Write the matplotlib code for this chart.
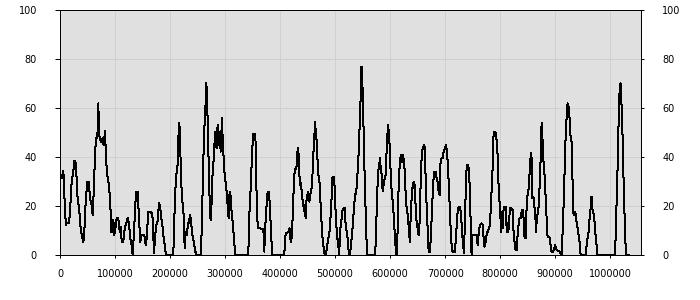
import matplotlib
matplotlib.use("Agg")
import matplotlib.pyplot as plt
from matplotlib.ticker import FuncFormatter
import numpy as np

# x positions in thousands, values in %
x_k = [
    0, 3.0, 6.06, 7.27, 9.09, 10.9, 12.1, 16.35, 18.17, 21.2, 24.23, 26.05, 27.26, 29.08,
    31.5, 33.32, 35.13, 37.56, 39.37, 42.4, 44.22, 46.64, 49.67, 52.7, 53.91, 55.73, 57.55,
    59.36, 61.79, 63.6, 65.42, 67.84, 69.66, 70.87, 72.69, 74.51, 76.93, 79.35, 81.77, 82.99,
    84.8, 86.62, 89.04, 91.46, 93.28, 95.09, 96.91, 98.73, 101.16, 102.98, 106.0, 107.21,
    109.03, 110.85, 112.06, 115.09, 116.91, 119.33, 122.97, 125.39, 127.81, 130.24, 132.06,
    133.87, 136.29, 138.11, 141.14, 143.56, 145.98, 148.41, 151.43, 153.25, 155.68, 157.5,
    160.52, 163.55, 167.79,
    169.6, 170.8, 174.5, 176.9, 179.9, 181.7, 183.5, 186.0, 187.8, 190.2, 192.6, 205.9,
    207.8, 210.8, 213.2, 215.6, 216.9, 218.1, 219.9, 221.7, 224.1, 225.9, 226.5, 228.4,
    230.2, 232.6, 235.0, 236.8, 238.7, 240.5, 242.9, 245.3, 247.1, 256.2, 257.4, 259.3,
    261.1, 262.9, 264.7, 265.9, 267.1, 268.9, 270.8, 272.6, 273.8, 275.6, 277.4, 279.9,
    281.7, 283.5, 284.7, 286.5, 288.3, 290.2, 292.0, 294.4, 295.6, 297.4, 299.2, 301.7,
    303.5, 305.3, 306.5, 307.7, 309.5, 311.3, 313.2, 316.2, 318.6,
    342.2, 344.1, 346.5, 349.5, 351.3, 355.0, 356.2, 357.4, 359.2, 360.4, 363.4, 369.5,
    370.7, 371.3, 372.5, 374.3, 376.2, 377.4, 379.8, 381.6, 384.0, 385.9, 407.7, 408.9,
    410.7, 414.9, 417.4, 419.2, 421.0, 423.4, 425.2, 427.0, 428.9, 430.7, 431.9, 433.1,
    434.3, 436.1, 437.9, 440.4, 442.2, 444.0, 445.2, 446.4, 447.6, 449.5, 451.3, 453.1,
    454.9, 457.3, 459.2, 461.0, 462.2, 463.4, 464.6, 465.8, 467.6, 469.4, 471.3, 473.1,
    474.9, 476.7, 478.5, 480.3, 482.2, 484.0, 485.8, 487.6, 489.4, 491.2, 493.1, 494.9,
    496.7, 498.5, 499.7, 501.6, 503.4, 505.8, 507.6,
    508.8, 513.7, 516.1, 517.9, 519.1, 520.9, 522.8, 525.2, 527.0, 528.8, 531.2, 533.0,
    534.9, 536.1, 537.9, 539.7, 541.5, 543.3, 545.2, 546.4, 547.6, 548.8, 550.0, 551.2,
    553.0, 554.9, 556.7, 558.5, 573.0, 574.2, 576.1, 577.9, 579.7, 581.5, 583.3, 585.1,
    586.4, 588.2, 590.0, 591.8, 593.6, 595.4, 596.6, 597.9, 599.7, 601.5, 603.3, 605.1,
    606.9, 608.8, 610.6, 611.8, 613.0, 614.8, 616.6, 618.5, 620.3, 622.1, 623.9, 625.1,
    626.9, 628.8, 630.6, 633.0, 634.8, 636.0, 637.2, 639.1, 640.9, 642.7, 644.5, 646.3,
    648.1, 650.0, 651.8, 653.6, 655.4, 657.2, 659.0, 661.5, 663.3, 664.5, 666.3, 668.1,
    670.0, 672.4, 674.2, 676.0, 678.4, 680.2, 682.7, 684.5, 686.3, 688.1, 689.9,
    691.7, 693.6, 695.4, 697.2, 699.6, 701.4, 703.3, 705.1, 706.9, 708.7, 710.5, 712.3,
    714.2, 717.8, 719.6, 721.4, 723.2, 725.7, 727.5, 729.3, 731.1, 732.9, 734.1, 735.4,
    736.6, 738.4, 740.2, 742.0, 743.8, 745.7, 746.9, 748.1, 749.3, 754.1, 757.8, 759.0,
    760.2, 762.0, 763.8, 766.3, 768.7, 769.9, 771.7, 773.5, 775.3, 777.2, 779.6, 781.4,
    783.2, 785.0, 786.8, 788.1, 789.3, 790.5, 791.7, 792.9, 794.1, 795.3, 796.5, 798.4,
    800.2, 801.4, 802.6, 803.8, 805.0, 806.2, 808.1, 809.9, 811.1, 812.3, 813.5, 814.7,
    815.9, 817.7, 820.2, 822.6, 824.4, 826.2, 828.1, 829.9, 831.7, 833.5, 835.3, 837.1,
    839.0, 840.8, 842.6, 844.4, 846.2, 848.0, 849.2, 851.1, 852.9, 854.7, 855.9, 857.1,
    858.3, 859.5, 861.4, 862.6,
    863.8, 865.0, 866.8, 868.6, 870.4, 872.3, 874.1, 875.3, 876.5, 877.7, 879.5, 881.3,
    883.2, 884.4, 886.2, 888.6, 890.4, 891.6, 892.9, 896.5, 898.3, 900.1, 901.3, 902.6,
    908.6, 910.4, 912.2, 913.5, 915.3, 917.1, 918.9, 920.7, 922.5, 924.4, 926.2, 928.0,
    929.8, 931.6, 933.4, 935.3, 937.1, 938.9, 940.7, 942.5, 944.4, 946.2, 955.8, 957.1,
    958.9, 960.7, 961.9, 963.7, 965.5, 966.8, 968.0, 969.8, 971.6, 973.4, 975.2, 977.1,
    1008.5, 1009.8, 1011.6, 1013.4, 1015.2, 1016.4, 1017.6, 1018.8, 1020.0, 1021.9,
    1023.7, 1025.5, 1027.3, 1029.1, 1035.0,
]

values = [
    31.3, 31.3, 34.3, 28.6, 17.7, 12.2, 12.9, 12.9, 17.7, 29.9, 34, 38.4, 38.4, 36.7,
    24.5, 21.1, 17.7, 10.9, 8.2, 5.4, 9.5, 21.8, 29.9, 29.9, 24.5, 21.8, 20.4,
    16.3, 28.6, 40.8, 47.6, 47.6, 61.9, 49, 47.6, 46.3, 47.6, 44.9, 50.6, 43.5,
    35.4, 31.3, 28.6, 20.4, 9.5, 9.5, 14.3, 8.2, 11.6, 15, 15, 11.6,
    9.5, 11.6, 5.4, 5.4, 9.5, 12.2, 15, 12.9, 6.8, 4.1, 0,
    6.8, 17.7, 25.9, 25.9, 15, 5.4, 8.2, 8.2, 8.2, 4.1, 6.8,
    17.7, 17.7, 17.0,
    8.2, 0.7, 12.2, 12.9, 21.1, 20.4, 16.3, 12.2, 8.2, 4.1, 0, 0,
    15, 32.7, 34, 50.3, 54.1, 47.6, 32.7, 23.1, 19, 9.5, 2.7, 9.5,
    8.2, 12.2, 14.3, 16.3, 12.2, 8.2, 5.4, 2.7, 0, 0, 9.5, 27.2,
    43.5, 54.4, 61.9, 70.1, 65.3, 50.3, 31.3, 17.7, 14.3, 21.8, 34, 40.8,
    50.3, 46.3, 43.5, 53.1, 44.9, 50.3, 42.2, 55.8, 47.6, 39.5, 32.7, 28.6,
    24.5, 17.7, 15, 24.5, 25.9, 19, 15, 6.8, 0,
    0, 16.3, 27.2, 43.5, 49.3, 49.3, 39.5, 23.1, 12.2, 10.9, 10.9, 10.6,
    5.4, 1.4, 9.5, 16.3, 23.1, 25.9, 25.9, 19, 6.8, 0, 0, 6.8,
    8.8, 9.5, 10.9, 5.4, 6.8, 17.7, 31.3, 34.7, 35.4, 36.7, 43.5, 43.5,
    36.7, 28.6, 29.3, 23.1, 20.4, 17.7, 20.4, 15, 21.8, 24.5, 25.9, 21.8,
    24.5, 27.2, 34, 43.5, 47.6, 54.4, 51, 49, 40.8, 32.7, 31.3, 23.1,
    15, 8.2, 4.1, 0.7, 0, 1.4, 4.1, 6.8, 8.2, 13.6, 20.4, 31.3,
    32, 31.3, 23.1, 15, 8.2, 4.1, 0,
    9.5, 18.4, 19, 19, 12.2, 9.5, 6.8, 0, 0, 4.1, 9.5, 15,
    20.4, 24.5, 25.2, 28.6, 36.7, 43.5, 57.1, 63.9, 76.9, 76.9, 66.7, 57.1,
    38.1, 23.1, 8.2, 0, 0, 9.5, 20.4, 34, 35.4, 39.5, 34, 32.7,
    25.9, 28.6, 31.3, 32.7, 42.2, 50.3, 53.1, 47.6, 43.5, 28.6, 25.9, 20.4,
    15, 6.8, 1.4, 0, 4.1, 23.1, 34, 39.5, 40.8, 38.1, 40.8, 36.7,
    34, 20.4, 19, 13.6, 8.2, 5.4, 15, 23.1, 27.9, 29.9, 28.6, 20.4,
    13.6, 10.9, 8.2, 13.6, 28.6, 39.5, 43.5, 44.9, 43.5, 31.3, 20.4, 10.9,
    1.4, 1.4, 8.2, 17.7, 29.9, 34, 34, 31.3, 29.9, 25.9, 24.5,
    38.1, 39.5, 39.5, 42.2, 43.5, 44.9, 42.2, 36.7, 27.2, 17.7, 8.2, 2,
    1.4, 1.4, 6.8, 13.6, 19, 19.7, 19, 15, 8.2, 4.1, 0.7, 9.5,
    19, 34, 36.7, 36.7, 32.7, 20.4, 6.8, 0, 8.2, 8.2, 8.2, 4.1,
    6.8, 10.9, 12.2, 12.9, 12.2, 6.8, 3.4, 5.4, 8.2, 9.5, 10.9, 12.2,
    20.4, 28.6, 38.1, 50.3, 50.3, 50.3, 49.7, 47.6, 46.3, 40.8, 31.3, 23.1,
    17.7, 9.5, 15, 17.7, 10.9, 19, 19.7, 19.7, 13.6, 9.5, 12.9, 9.5,
    12.2, 19, 19, 18.4, 9.5, 5.4, 2, 2, 8.2, 12.2, 15, 15,
    17.7, 18.4, 15, 6.8, 6.8, 19, 23.8, 25.2, 31.3, 38.1, 41.5, 39.5,
    23.1, 23.8, 23.1, 19,
    17.7, 9.5, 15, 17.7, 20.4, 31.3, 42.2, 54.1, 50.3, 42.2, 35.4, 31.3,
    20.4, 15, 7.5, 7.5, 6.8, 4.1, 1.4, 1.4, 2.7, 4.1, 2.7, 2,
    1.4, 0, 0, 9.5, 20.4, 34, 47.6, 55.8, 61.9, 60.5, 55.8, 48.3,
    46.3, 29.9, 16.3, 17.7, 17, 13.6, 10.9, 8.2, 5.4, 0, 0, 4.1,
    6.8, 9.5, 13.6, 16.3, 23.8, 23.8, 17.7, 17, 13.6, 8.2, 4.1, 0,
    0, 6.8, 20.4, 35.4, 54.4, 65.3, 66.7, 70.1, 64.6, 54.4,
    35.4, 20.4, 6.8, 0, 0,
]

x_ticks = [0, 100000, 200000, 300000, 400000, 500000, 600000, 700000, 800000, 900000, 1000000]
y_ticks = [0, 20, 40, 60, 80, 100]

xs = np.array(x_k) * 1000.0
ys = np.array(values)

LW = 0.72  # one pixel at 100 dpi

fig = plt.figure(figsize=(7, 3), dpi=100)
ax = fig.add_axes([60 / 700, 45 / 300, 581 / 700, 245 / 300])
ax.set_facecolor("#e0e0e0")
ax.plot(xs, ys, color="black", lw=LW, antialiased=False, zorder=3)

ax.set_xlim(0, 1056000)
ax.set_ylim(0, 100)
ax.set_xticks(x_ticks)
ax.set_yticks(y_ticks)
ax.xaxis.set_major_formatter(FuncFormatter(lambda v, p: "%d" % v))
ax.grid(True, color="#d0d0d0", lw=LW, zorder=0)
ax.set_axisbelow(True)

for s in ax.spines.values():
    s.set_color("black")
    s.set_linewidth(LW)

ax.tick_params(axis="x", direction="out", length=2.5, width=LW, pad=7.5,
               labelsize=7, colors="black")
ax.tick_params(axis="y", direction="out", length=3.6, width=LW, pad=13,
               labelsize=7, colors="black")

ax2 = ax.twinx()
ax2.set_ylim(0, 100)
ax2.set_yticks(y_ticks)
ax2.tick_params(axis="y", direction="out", length=2.2, width=LW, pad=13,
                labelsize=7, colors="black")
for s in ax2.spines.values():
    s.set_visible(False)

fig.savefig("out.png", dpi=100, facecolor="white")
